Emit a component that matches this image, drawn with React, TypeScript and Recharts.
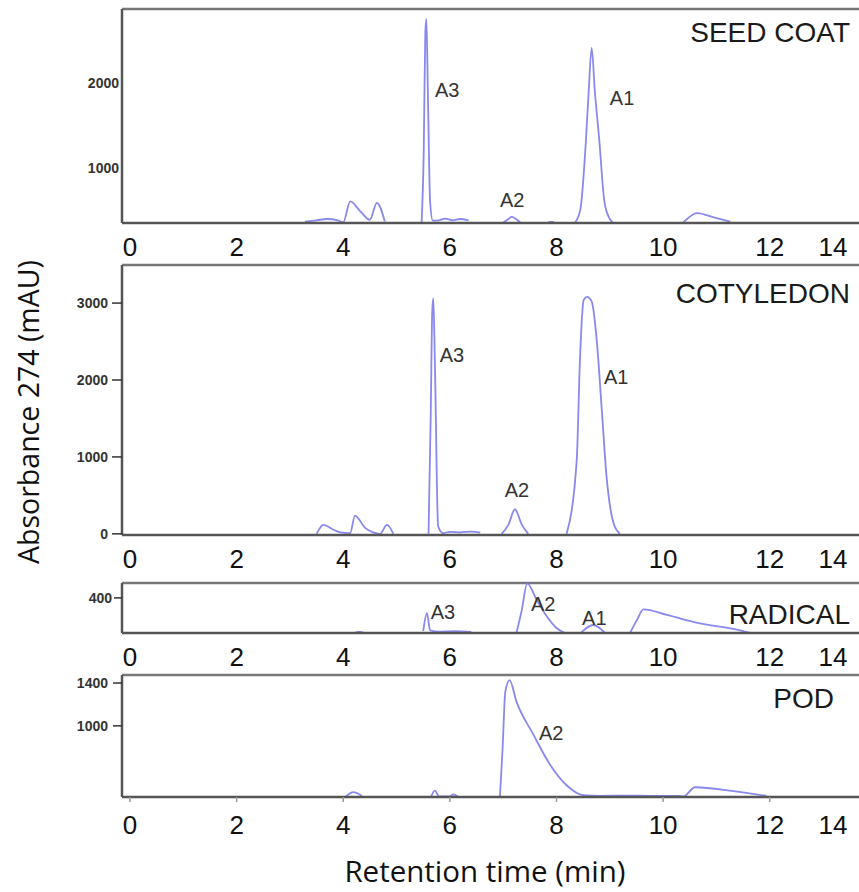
import React from 'react';
import { LineChart, Line, XAxis, YAxis, ReferenceLine, ReferenceDot } from 'recharts';

const xTicks = [0, 2, 4, 6, 8, 10, 12, 14];

// seed coat trace (min, mAU), null = gap in trace
const seedTime = [3.28, 3.5, 3.7, 3.9, 4.0, 4.13, 4.32, 4.5, 4.63, 4.78, 5.0, 5.47, 5.51, 5.54, 5.56, 5.59, 5.63, 5.68, 5.8, 5.91, 6.05, 6.19, 6.35, 6.6, 7.0, 7.1, 7.16, 7.24, 7.32, 7.6, 7.85, 7.95, 8.1, 8.35, 8.45, 8.55, 8.6, 8.66, 8.72, 8.8, 8.9, 9.0, 9.06, 9.5, 10.38, 10.64, 10.95, 11.26];
const seedAbs = [370, 385, 400, 385, 360, 607, 490, 390, 590, 370, null, 360, 1200, 2600, 2753, 1800, 600, 380, 385, 405, 385, 400, 385, null, 360, 400, 424, 400, 360, null, 365, 365, null, 360, 520, 1300, 1850, 2412, 1900, 1350, 600, 400, 360, null, 360, 470, 420, 370];

// cotyledon
const cotTime = [3.5, 3.63, 3.8, 3.94, 4.13, 4.22, 4.41, 4.56, 4.69, 4.82, 4.94, 5.2, 5.6, 5.64, 5.67, 5.69, 5.72, 5.78, 5.87, 6.0, 6.2, 6.4, 6.57, 6.8, 6.97, 7.1, 7.22, 7.35, 7.47, 7.8, 8.19, 8.38, 8.44, 8.51, 8.57, 8.66, 8.76, 8.85, 8.94, 9.07, 9.19];
const cotAbs = [0, 117, 60, 20, 10, 238, 78, 20, 0, 117, 0, null, 0, 1500, 2900, 3060, 2200, 100, 10, 25, 20, 30, 15, null, 0, 120, 320, 120, 0, null, 0, 960, 2260, 3040, 3080, 3020, 2480, 1610, 740, 140, 0];

// radical
const radTime = [4.2, 4.3, 4.4, 4.6, 5.5, 5.57, 5.63, 5.8, 6.1, 6.4, 6.6, 7.25, 7.35, 7.45, 7.63, 7.82, 8.0, 8.16, 8.3, 8.47, 8.69, 8.91, 9.1, 9.38, 9.51, 9.63, 10.07, 10.69, 11.32, 11.63];
const radAbs = [0, 12, 0, null, 20, 225, 30, 15, 20, 12, null, 0, 263, 565, 377, 187, 57, 0, null, 10, 91, 0, null, 0, 149, 270, 206, 110, 46, 0];

// pod
const podTime = [4.05, 4.19, 4.35, 4.6, 5.65, 5.72, 5.8, 6.0, 6.06, 6.15, 6.5, 6.94, 6.99, 7.04, 7.12, 7.25, 7.57, 7.88, 8.19, 8.5, 8.82, 9.3, 9.8, 10.3, 10.38, 10.6, 11.32, 11.94];
const podAbs = [340, 380, 345, null, 340, 395, 340, 340, 360, 340, null, 340, 795, 1320, 1428, 1226, 916, 637, 445, 352, 345, 348, 345, 345, 340, 426, 389, 345];

// peak labels: name, time, level (label centre)
const seedPeaks = [['A3', 5.95, 1921], ['A2', 7.17, 627], ['A1', 9.23, 1827]];
const cotPeaks = [['A3', 6.04, 2325], ['A2', 7.26, 571], ['A1', 9.12, 2039]];
const radPeaks = [['A3', 5.87, 240], ['A2', 7.75, 331], ['A1', 8.71, 171]];
const podPeaks = [['A2', 7.9, 935]];

const FONT = '"Liberation Sans", Arial, sans-serif';
const TITLE_FONT = '"Open Sans", sans-serif';
const TRACE = '#7b7bec';

const toRows = (t: number[], v: (number | null)[]) => t.map((x, i) => ({ t: x, v: v[i] }));

const XTick = (props: any) => {
  const { x, y, payload } = props;
  return (
    <text x={Math.min(x, 833)} y={y} dy="0.71em" textAnchor="middle" fontSize={26} fill="#111" fontFamily={FONT}>
      {payload.value}
    </text>
  );
};

interface PanelProps {
  rows: { t: number; v: number | null }[];
  yDomain: [number, number];
  yTicks: number[];
  yTickSize: number;
  yTickMargin: number;
  yTickLine: boolean;
  xTickLine: boolean;
  xTickSize: number;
  xTickMargin: number;
  plotTop: number;
  plotBottom: number;
  peaks: (string | number)[][];
}

const Panel = ({ rows, yDomain, yTicks, yTickSize, yTickMargin, yTickLine, xTickLine, xTickSize, xTickMargin, plotTop, plotBottom, peaks }: PanelProps) => (
  <div style={{ position: 'absolute', left: 0, top: plotTop - 4 }}>
    <LineChart width={887} height={plotBottom - plotTop + 48} data={rows} margin={{ top: 4, right: 0, bottom: 0, left: 0 }}>
      <XAxis
        dataKey="t"
        type="number"
        domain={[-0.15, 14.2]}
        ticks={xTicks}
        interval={0}
        allowDataOverflow
        height={44}
        axisLine={{ stroke: '#555', strokeWidth: 2.5 }}
        tickLine={xTickLine ? { stroke: '#999', strokeWidth: 1.5 } : false}
        tickSize={xTickSize}
        tickMargin={xTickMargin}
        tick={<XTick />}
      />
      <YAxis
        type="number"
        domain={yDomain}
        ticks={yTicks}
        interval={0}
        allowDataOverflow
        width={122}
        axisLine={{ stroke: '#555', strokeWidth: 2.5 }}
        tickLine={yTickLine ? { stroke: '#333', strokeWidth: 1.5 } : false}
        tickSize={yTickSize}
        tickMargin={yTickMargin}
        tick={{ fontSize: 14, fontWeight: 700, fill: '#333', fontFamily: FONT }}
      />
      <ReferenceLine y={yDomain[1]} stroke="#777" strokeWidth={2.5} />
      <Line dataKey="v" type="monotone" stroke={TRACE} strokeWidth={1.8} strokeOpacity={0.9} dot={false} activeDot={false} connectNulls={false} isAnimationActive={false} />
      {peaks.map((p) => (
        <ReferenceDot
          key={String(p[0])}
          x={p[1] as number}
          y={p[2] as number}
          r={0}
          fill="none"
          stroke="none"
          label={{ value: p[0], position: 'center', fontSize: 20, fill: '#333', fontFamily: FONT }}
        />
      ))}
    </LineChart>
  </div>
);

export default function App() {
  return (
    <div style={{ position: 'absolute', left: 0, top: 0, width: 859, height: 892, overflow: 'hidden', background: '#fff' }}>
      <svg width={859} height={892} style={{ position: 'absolute', left: 0, top: 0 }}>
        <g fontFamily={FONT} fontSize={28} fill="#1a1a1a" textAnchor="end">
          <text x={850} y={42}>SEED COAT</text>
          <text x={850} y={303}>COTYLEDON</text>
          <text x={850} y={624}>RADICAL</text>
          <text x={834} y={708}>POD</text>
        </g>
        <text x={485} y={882} textAnchor="middle" fontSize={29.5} fill="#111" fontFamily={TITLE_FONT}>
          Retention time (min)
        </text>
        <text x={39} y={412} transform="rotate(-90, 39, 412)" textAnchor="middle" fontSize={28.5} fill="#111" fontFamily={TITLE_FONT}>
          Absorbance 274 (mAU)
        </text>
      </svg>
      <Panel rows={toRows(seedTime, seedAbs)} yDomain={[353, 2870]} yTicks={[1000, 2000]} yTickSize={0} yTickMargin={3} yTickLine={false}
        xTickLine={false} xTickSize={6} xTickMargin={9} plotTop={9} plotBottom={223} peaks={seedPeaks} />
      <Panel rows={toRows(cotTime, cotAbs)} yDomain={[-15, 3495]} yTicks={[0, 1000, 2000, 3000]} yTickSize={10} yTickMargin={4} yTickLine
        xTickLine={false} xTickSize={6} xTickMargin={9} plotTop={265} plotBottom={535} peaks={cotPeaks} />
      <Panel rows={toRows(radTime, radAbs)} yDomain={[0, 570]} yTicks={[400]} yTickSize={8} yTickMargin={2} yTickLine
        xTickLine={false} xTickSize={6} xTickMargin={9} plotTop={583} plotBottom={633} peaks={radPeaks} />
      <Panel rows={toRows(podTime, podAbs)} yDomain={[335, 1475]} yTicks={[1000, 1400]} yTickSize={9} yTickMargin={5} yTickLine
        xTickLine xTickSize={5} xTickMargin={14} plotTop={675} plotBottom={797} peaks={podPeaks} />
    </div>
  );
}
